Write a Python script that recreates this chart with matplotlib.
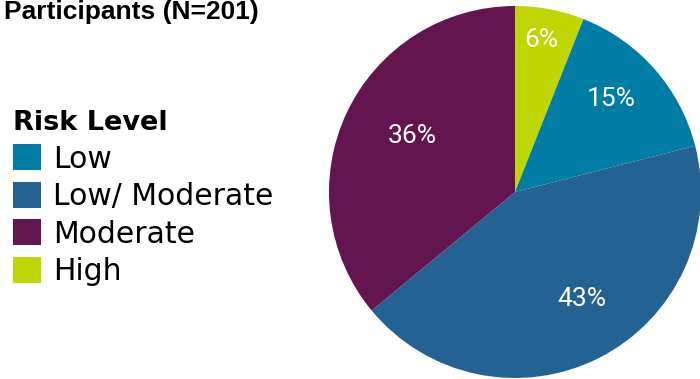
import matplotlib.pyplot as plt
import matplotlib.patches as mpatches
import numpy as np

# data
categories = ['Low', 'Low/ Moderate', 'Moderate', 'High']
percent = [15, 43, 36, 6]
colors = ['#007DA7', '#256294', '#62154F', '#BFD600']
# slice drawing order (clockwise from 12 o'clock): High, Low, Low/Moderate, Moderate
order = [3, 0, 1, 2]
title = 'Participants (N=201)'

W, H = 700, 379
fig = plt.figure(figsize=(7, 3.79), dpi=100)

# pie: center (515,192) px, radius 186 px
cx, cy, r = 515, 192, 186
ax = fig.add_axes([(cx - r) / W, (H - cy - r) / H, 2 * r / W, 2 * r / H])
vals = [percent[i] for i in order]
cols = [colors[i] for i in order]
wedges, _ = ax.pie(vals, colors=cols, startangle=90, counterclock=False,
                   radius=1, wedgeprops=dict(linewidth=0))
ax.set_xlim(-1, 1)
ax.set_ylim(-1, 1)
ax.set_aspect('equal')

# percentage labels, placed near each wedge's mid angle
dist = [0.83, 0.72, 0.68, 0.63]
shift = [1, 2.5, 5, -3.3]   # degrees
for w, v, d, s in zip(wedges, vals, dist, shift):
    ang = np.deg2rad((w.theta1 + w.theta2) / 2 + s)
    ax.text(d * np.cos(ang), d * np.sin(ang), f'{v}%', color='white',
            fontsize=19, ha='center', va='center', family='Roboto')

# title (the top of the source is cropped)
fig.text(4 / W, 1 - 19 / H, title, fontsize=19, fontweight='bold',
         ha='left', va='baseline', family='Liberation Sans')

# legend
handles = [mpatches.Patch(facecolor=c, edgecolor='none') for c in colors]
leg = fig.legend(handles, categories, loc='upper left',
                 bbox_to_anchor=(13 / W, 1 - 110 / H), frameon=False,
                 title='Risk Level', alignment='left',
                 title_fontproperties={'weight': 'bold', 'size': 19.5},
                 prop={'size': 21.5}, handlelength=0.95, handleheight=0.95,
                 handletextpad=0.38, labelspacing=0.28, borderpad=0,
                 borderaxespad=0)

fig.savefig('out.png', dpi=100)
